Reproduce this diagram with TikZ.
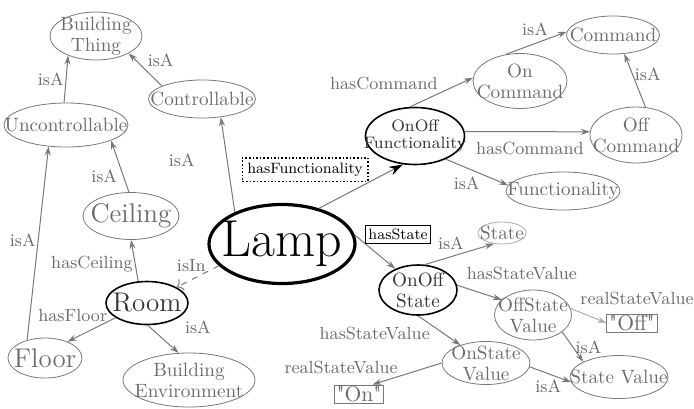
\documentclass[tikz,border=0pt]{standalone}
\usetikzlibrary{shapes.geometric,arrows.meta}
\definecolor{txtgray}{gray}{0.42}
\definecolor{linegray}{gray}{0.47}
\definecolor{lightgray}{gray}{0.68}
\definecolor{darktext}{gray}{0.2}
\tikzset{
  concept/.style={ellipse, draw=linegray, line width=0.4pt, inner sep=0pt},
  core/.style={ellipse, draw=black, line width=0.8pt, inner sep=0pt},
  ctext/.style={text=txtgray, font=\fontsize{9.6}{10.5}\selectfont, align=center, inner sep=0pt},
  dtext/.style={ctext, text=darktext},
  bigtext/.style={ctext, font=\fontsize{13.5}{15}\selectfont},
  rel/.style={draw=linegray, line width=0.5pt, -{Stealth[length=4.5pt,width=3pt]}},
  lbl/.style={text=txtgray, font=\fontsize{8.8}{10}\selectfont, inner sep=1pt},
  boxlbl/.style={draw=black, text=black, font=\fontsize{7.5}{8}\selectfont, inner xsep=1.5pt, inner ysep=1.6pt},
  valbox/.style={draw=linegray, text=txtgray, line width=0.4pt, font=\fontsize{10.8}{12}\selectfont, inner xsep=1.2pt, inner ysep=0.6pt}
}
\begin{document}
\begin{tikzpicture}[x=0.5pt, y=-0.5pt]
\useasboundingbox (0,0) rectangle (694,408);
\node[concept, minimum width=46pt, minimum height=24pt, label={[ctext]center:Building\\Thing}] (bt) at (96,36) {};
\node[concept, minimum width=62pt, minimum height=22pt, label={[ctext]center:Uncontrollable}] (unc) at (66,125) {};
\node[concept, minimum width=53.5pt, minimum height=19pt, label={[ctext]center:Controllable}] (ctrl) at (202,99) {};
\node[concept, minimum width=48pt, minimum height=23.5pt, label={[bigtext]center:Ceiling}] (ceil) at (131,216) {};
\node[core, minimum width=41pt, minimum height=21.5pt, label={[bigtext, text=darktext]center:Room}] (room) at (147,303) {};
\node[concept, minimum width=37pt, minimum height=20pt, label={[bigtext]center:Floor}] (floor) at (45,358) {};
\node[concept, minimum width=66pt, minimum height=27pt, label={[ctext]center:Building\\Environment}] (benv) at (189,380) {};
\node[ellipse, draw=black, line width=1.6pt, inner sep=0pt, minimum width=73pt, minimum height=39.5pt, label={[font=\fontsize{26}{28}\selectfont, inner sep=0pt]center:Lamp}] (lamp) at (282,244) {};
\node[core, minimum width=49.5pt, minimum height=28.5pt, label={[dtext, font=\fontsize{8.3}{8.8}\selectfont]center:OnOff\\Functionality}] (onofff) at (415,136) {};
\node[concept, minimum width=47pt, minimum height=27.5pt, label={[ctext]center:On\\Command}] (oncmd) at (520,81) {};
\node[concept, minimum width=46.5pt, minimum height=19pt, label={[ctext]center:Command}] (cmd) at (613,35) {};
\node[concept, minimum width=46pt, minimum height=28pt, label={[ctext]center:Off\\Command}] (offcmd) at (636,135) {};
\node[concept, minimum width=57pt, minimum height=19pt, label={[ctext]center:Functionality}] (func) at (563,191) {};
\node[concept, draw=lightgray, minimum width=24pt, minimum height=11pt, label={[ctext]center:State}] (state) at (502,233) {};
\node[core, minimum width=39pt, minimum height=25pt, label={[dtext]center:OnOff\\State}] (onoffs) at (418,290) {};
\node[concept, minimum width=38.5pt, minimum height=25pt, label={[ctext]center:OffState\\Value}] (offsv) at (533,315) {};
\node[concept, minimum width=44pt, minimum height=21.5pt, label={[ctext]center:OnState\\Value}] (onsv) at (486,363) {};
\node[concept, minimum width=49pt, minimum height=21.5pt, label={[ctext]center:State Value}] (sv) at (619,377) {};
\node[valbox] (offval) at (632,323) {\textquotedbl Off\textquotedbl};
\node[valbox] (onval) at (359,394) {\textquotedbl On\textquotedbl};

\draw[rel] (unc.95) -- (bt.215) node[lbl, pos=.5, left] {isA};
\draw[rel] (ctrl.162) -- (bt.332) node[lbl, pos=.5, anchor=south west] {isA};
\draw[rel] (lamp.146) -- (ctrl.316) node[lbl, pos=.55, left=15pt] {isA};
\draw[rel] (ceil.95) -- (unc.341) node[lbl, pos=.3, left=2pt] {isA};
\draw[rel] (floor.135) -- (unc.231) node[lbl, pos=.515, left] {isA};
\draw[rel] (room.112) -- (ceil.270) node[lbl, pos=.41, left] {hasCeiling};
\draw[rel, dashed, -{To[length=3pt]}] (lamp.199) -- (room.28) node[lbl, pos=.65, above=3pt] {isIn};
\draw[rel] (room.205) -- (floor.36) node[lbl, pos=.29, anchor=south east, xshift=4pt] {hasFloor};
\draw[rel] (room.272) -- (benv.111) node[lbl, pos=.35, anchor=west, xshift=12pt, yshift=4pt] {isA};
\draw[rel, -{Stealth[length=7pt,width=4.5pt,black]}] (lamp.44) -- (onofff.247)
  node[boxlbl, densely dotted, line width=0.8pt, inner xsep=2.5pt, inner ysep=2.6pt, pos=.59, anchor=south east] {hasFunctionality};
\draw[rel] (onofff.100) -- (oncmd.176) node[lbl, pos=.48, anchor=south east] {hasCommand};
\draw[rel] (oncmd.118) -- (cmd.176) node[lbl, pos=.73, anchor=south east] {isA};
\draw[rel] (onofff.5) -- (offcmd.176) node[lbl, pos=.52, below=4pt] {hasCommand};
\draw[rel] (offcmd.71) -- (cmd.301) node[lbl, pos=.62, right] {isA};
\draw[rel] (onofff.323) -- (func.174) node[lbl, pos=.58, anchor=north east] {isA};
\draw[rel] (lamp.7) -- (onoffs.137) node[boxlbl, pos=.25, anchor=south west] {hasState};
\draw[rel] (onoffs.75) -- (state.233) node[lbl, pos=.6, anchor=south east] {isA};
\draw[rel] (onoffs.7) -- (offsv.154) node[lbl, pos=.16, anchor=south west, yshift=2.5pt] {hasStateValue};
\draw[rel, draw=lightgray] (offsv.10) -- (offval.west) node[lbl, pos=.43, anchor=south west, xshift=-4pt, yshift=3.5pt] {realStateValue};
\draw[rel] (offsv.330) -- (sv.157) node[lbl, pos=.52, right] {isA};
\draw[rel] (onoffs.270) -- (onsv.145) node[lbl, pos=.62, left=6pt] {hasStateValue};
\draw[rel] (onsv.180) -- (onval.35) node[lbl, pos=.6, anchor=south east] {realStateValue};
\draw[rel] (onsv.355) -- (sv.186) node[lbl, pos=.45, below=2pt] {isA};
\end{tikzpicture}
\end{document}
